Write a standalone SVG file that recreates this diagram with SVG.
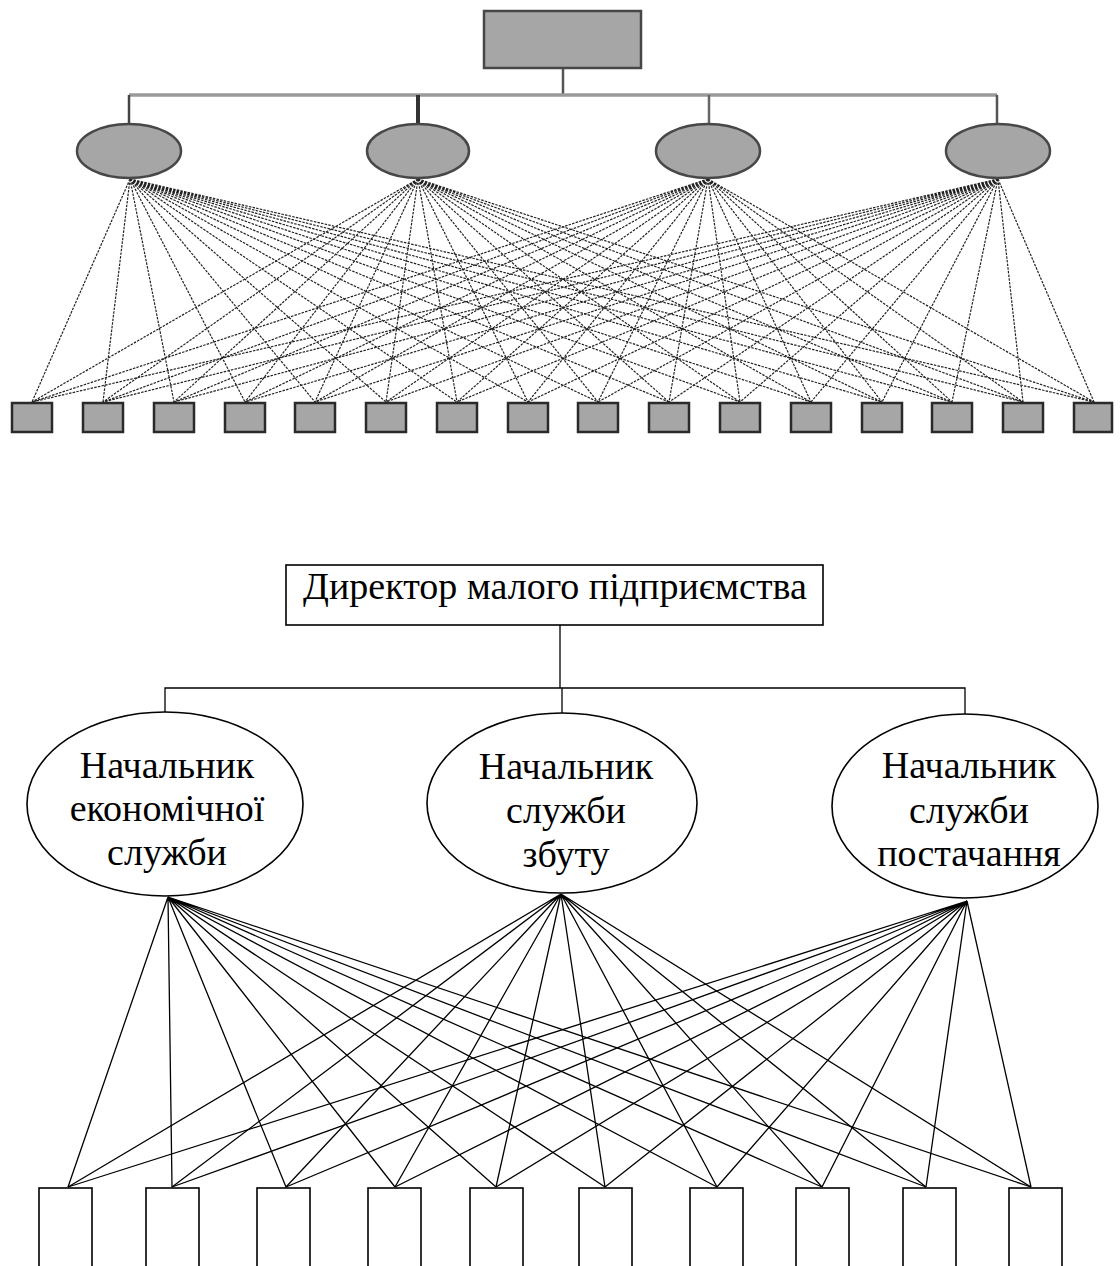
<svg xmlns="http://www.w3.org/2000/svg" width="1120" height="1266" viewBox="0 0 1120 1266">
<style>
.g{fill:#a6a6a6;stroke:#474747;stroke-width:2.5}
.sq{fill:#a6a6a6;stroke:#2a2a2a;stroke-width:2.5}
.tl{stroke:#222;stroke-width:1.2;stroke-dasharray:2.5 1.2;fill:none}
.bl{stroke:#000;stroke-width:1.3;fill:none}
.w{fill:#fff;stroke:#000;stroke-width:1.6}
.t{font-family:"Liberation Serif","Times New Roman",serif;font-size:38px;fill:#000;text-anchor:middle}
</style>
<rect width="1120" height="1266" fill="#fff"/>
<g id="connectors">
<line x1="563" y1="68" x2="563" y2="95" stroke="#555" stroke-width="2.5"/>
<line x1="129" y1="95" x2="997" y2="95" stroke="#9a9a9a" stroke-width="3.5"/>
<line x1="129" y1="95" x2="129" y2="124" stroke="#444" stroke-width="2.5"/>
<line x1="418" y1="95" x2="418" y2="124" stroke="#333" stroke-width="4"/>
<line x1="709" y1="95" x2="709" y2="124" stroke="#666" stroke-width="2.5"/>
<line x1="997" y1="95" x2="997" y2="124" stroke="#555" stroke-width="2.5"/>
<g class="tl">
<path d="M130 179L32 402M130 179L103 402M130 179L174 402M130 179L245 402M130 179L315 402M130 179L386 402M130 179L457 402M130 179L528 402M130 179L598 402M130 179L669 402M130 179L740 402M130 179L811 402M130 179L882 402M130 179L952 402M130 179L1023 402M130 179L1094 402"/>
<path d="M418 179L32 402M418 179L103 402M418 179L174 402M418 179L245 402M418 179L315 402M418 179L386 402M418 179L457 402M418 179L528 402M418 179L598 402M418 179L669 402M418 179L740 402M418 179L811 402M418 179L882 402M418 179L952 402M418 179L1023 402M418 179L1094 402"/>
<path d="M708 179L32 402M708 179L103 402M708 179L174 402M708 179L245 402M708 179L315 402M708 179L386 402M708 179L457 402M708 179L528 402M708 179L598 402M708 179L669 402M708 179L740 402M708 179L811 402M708 179L882 402M708 179L952 402M708 179L1023 402M708 179L1094 402"/>
<path d="M998 179L32 402M998 179L103 402M998 179L174 402M998 179L245 402M998 179L315 402M998 179L386 402M998 179L457 402M998 179L528 402M998 179L598 402M998 179L669 402M998 179L740 402M998 179L811 402M998 179L882 402M998 179L952 402M998 179L1023 402M998 179L1094 402"/>
</g>
<g class="bl">
<path d="M560 625V688M165 712V688H965V714M562 688V713"/>
<path d="M168 897L68 1187M168 897L172 1187M168 897L286 1187M168 897L395 1187M168 897L496 1187M168 897L605 1187M168 897L717 1187M168 897L822 1187M168 897L926 1187M168 897L1031 1187"/>
<path d="M561 894L68 1187M561 894L172 1187M561 894L286 1187M561 894L395 1187M561 894L496 1187M561 894L605 1187M561 894L717 1187M561 894L822 1187M561 894L926 1187M561 894L1031 1187"/>
<path d="M967 901L68 1187M967 901L172 1187M967 901L286 1187M967 901L395 1187M967 901L496 1187M967 901L605 1187M967 901L717 1187M967 901L822 1187M967 901L926 1187M967 901L1031 1187"/>
</g>
</g>
<g id="top-root"><rect class="g" x="484" y="11" width="157" height="57"/></g>
<g id="top-m1"><ellipse class="g" cx="129" cy="151" rx="52" ry="27"/></g>
<g id="top-m2"><ellipse class="g" cx="418" cy="151" rx="51" ry="27"/></g>
<g id="top-m3"><ellipse class="g" cx="708" cy="151" rx="52" ry="27"/></g>
<g id="top-m4"><ellipse class="g" cx="998" cy="151" rx="52" ry="27"/></g>
<g id="top-workers">
<rect class="sq" x="12" y="403" width="40" height="29"/>
<rect class="sq" x="83" y="403" width="40" height="29"/>
<rect class="sq" x="154" y="403" width="40" height="29"/>
<rect class="sq" x="225" y="403" width="40" height="29"/>
<rect class="sq" x="295" y="403" width="40" height="29"/>
<rect class="sq" x="366" y="403" width="40" height="29"/>
<rect class="sq" x="437" y="403" width="40" height="29"/>
<rect class="sq" x="508" y="403" width="40" height="29"/>
<rect class="sq" x="578" y="403" width="40" height="29"/>
<rect class="sq" x="649" y="403" width="40" height="29"/>
<rect class="sq" x="720" y="403" width="40" height="29"/>
<rect class="sq" x="791" y="403" width="40" height="29"/>
<rect class="sq" x="862" y="403" width="40" height="29"/>
<rect class="sq" x="932" y="403" width="40" height="29"/>
<rect class="sq" x="1003" y="403" width="40" height="29"/>
<rect class="sq" x="1074" y="403" width="38" height="29"/>
</g>
<g id="director">
<rect class="w" x="286" y="565" width="537" height="60"/>
<text class="t" x="555" y="599">Директор малого підприємства</text>
</g>
<g id="head-econ">
<ellipse class="w" cx="165" cy="804" rx="138" ry="92"/>
<text class="t" x="167" y="778">Начальник</text>
<text class="t" x="167" y="821">економічної</text>
<text class="t" x="167" y="865">служби</text>
</g>
<g id="head-sales">
<ellipse class="w" cx="562" cy="803" rx="135" ry="90"/>
<text class="t" x="566" y="779">Начальник</text>
<text class="t" x="566" y="823">служби</text>
<text class="t" x="566" y="867">збуту</text>
</g>
<g id="head-supply">
<ellipse class="w" cx="965" cy="806" rx="133" ry="92"/>
<text class="t" x="969" y="778">Начальник</text>
<text class="t" x="969" y="823">служби</text>
<text class="t" x="969" y="866">постачання</text>
</g>
<g id="workers">
<rect class="w" x="39" y="1188" width="53" height="100" stroke-width="2"/>
<rect class="w" x="146" y="1188" width="53" height="100" stroke-width="2"/>
<rect class="w" x="257" y="1188" width="53" height="100" stroke-width="2"/>
<rect class="w" x="368" y="1188" width="53" height="100" stroke-width="2"/>
<rect class="w" x="470" y="1188" width="53" height="100" stroke-width="2"/>
<rect class="w" x="579" y="1188" width="53" height="100" stroke-width="2"/>
<rect class="w" x="690" y="1188" width="53" height="100" stroke-width="2"/>
<rect class="w" x="796" y="1188" width="53" height="100" stroke-width="2"/>
<rect class="w" x="903" y="1188" width="53" height="100" stroke-width="2"/>
<rect class="w" x="1009" y="1188" width="53" height="100" stroke-width="2"/>
</g>
</svg>
